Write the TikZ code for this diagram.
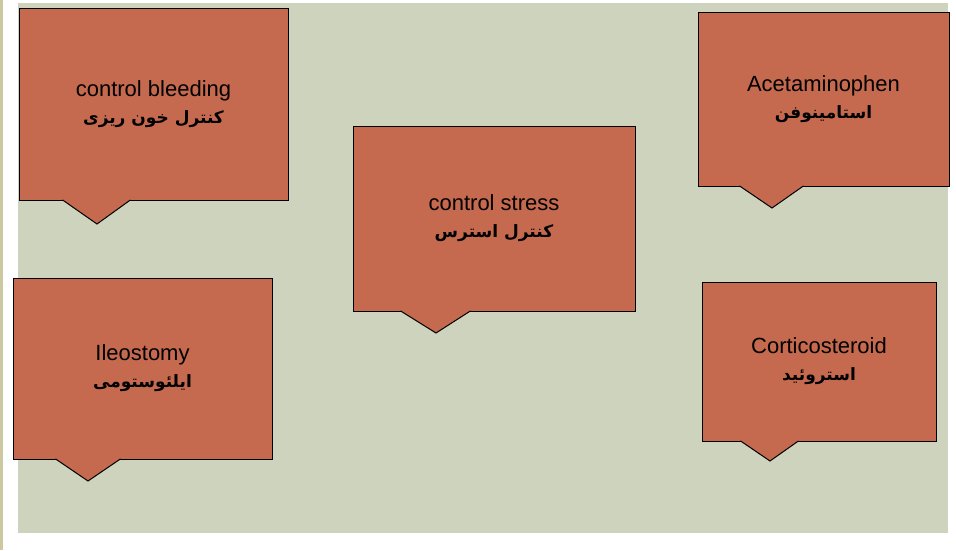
\documentclass[tikz,border=0pt]{standalone}
\usepackage{fontspec}
\setmainfont{Liberation Sans}
\newfontfamily\persianfont[Script=Arabic]{DejaVu Sans}
\TeXXeTstate=1
\definecolor{boxred}{RGB}{197,105,79}
\definecolor{sage}{RGB}{205,211,189}
\definecolor{tan}{RGB}{205,200,160}
\tikzset{
  box/.style={rectangle, draw=black, fill=boxred, line width=1pt, align=center,
    inner sep=0pt, font=\fontsize{22}{27}\selectfont},
  pointer/.style={draw=black, fill=boxred, line width=1pt, line join=miter}
}
\newcommand{\fa}[1]{\persianfont\bfseries\fontsize{17}{27}\selectfont\beginR #1\endR}
\begin{document}
\begin{tikzpicture}[x=1pt, y=-1pt]
  \useasboundingbox (0,0) rectangle (956,550);
  \fill[white] (0,0) rectangle (956,550);
  \fill[tan] (0,0) rectangle (2.5,550);
  \fill[sage] (18,3) rectangle (948,533);

  \node[box, minimum width=269pt, minimum height=192pt] (bleeding) at (153.5,104)
    {control bleeding\\\fa{کنترل خون ریزی}};
  \node[box, minimum width=259pt, minimum height=181pt] (ileostomy) at (142.5,368.5)
    {Ileostomy\\\fa{ایلئوستومی}};
  \node[box, minimum width=282pt, minimum height=185pt] (stress) at (494,218.5)
    {control stress\\\fa{کنترل استرس}};
  \node[box, minimum width=251pt, minimum height=174pt] (acetaminophen) at (823.5,99)
    {Acetaminophen\\\fa{استامینوفن}};
  \node[box, minimum width=234pt, minimum height=159pt] (corticosteroid) at (819,361.5)
    {Corticosteroid\\\fa{استروئید}};

  % pointer tips
  \coordinate (bleeding-tip) at (97,224);
  \coordinate (ileostomy-tip) at (88,481);
  \coordinate (stress-tip) at (436,333);
  \coordinate (acetaminophen-tip) at (772,208);
  \coordinate (corticosteroid-tip) at (770,461);

  \foreach \b/\l/\r in {bleeding/44/112, ileostomy/43/108, stress/48/118,
      acetaminophen/42/106, corticosteroid/39/97}
    \draw[pointer] ([shift={(\l,-0.6)}]\b.south west) -- (\b-tip)
      -- ([shift={(\r,-0.6)}]\b.south west);
\end{tikzpicture}
\end{document}
